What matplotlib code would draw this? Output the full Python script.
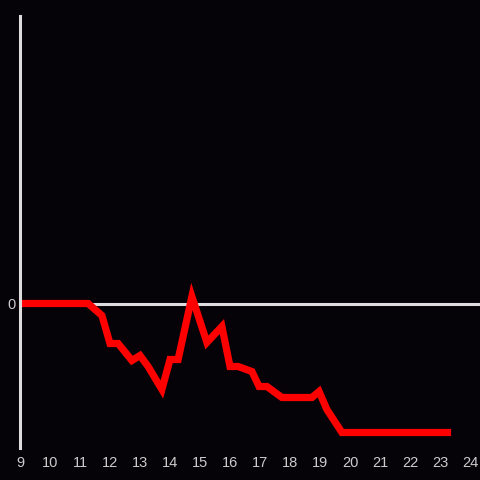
import matplotlib
matplotlib.use("Agg")
import matplotlib.pyplot as plt

# data
hours = [9.0, 11.27, 11.73, 12.0, 12.27, 12.73, 13.0, 13.27, 13.73, 14.0, 14.27,
         14.73, 15.23, 15.73, 16.0, 16.27, 16.73, 16.97, 17.23, 17.73, 18.73,
         18.97, 19.23, 19.73, 23.37]
values = [0, 0, -12, -40, -40, -57, -52, -63, -86, -56, -56,
          7, -39, -23, -63, -63, -68, -83, -83, -94, -94,
          -88, -106, -129, -129]
xticks = list(range(9, 25))
xtick_labels = [str(t) for t in xticks]
yticks = [0]
ytick_labels = ["0"]

bg = "#050307"
fg = "#dddddd"
txt = "#cccccc"

fig = plt.figure(figsize=(4.8, 4.8), dpi=100, facecolor=bg)
ax = fig.add_axes([20/480, 32/480, 460/480, 432/480], facecolor=bg)

ax.axhline(0, color=fg, lw=2.2, zorder=1)
ax.plot(hours, values, color="#ff0000", lw=5.2, solid_joinstyle="miter",
        solid_capstyle="butt", zorder=2)

ax.set_xlim(9, 9 + 460/30)
ax.set_ylim(-144.5, 287.5)

for s in ["top", "right", "bottom"]:
    ax.spines[s].set_visible(False)
ax.spines["left"].set_color(fg)
ax.spines["left"].set_linewidth(2.2)
ax.spines["left"].set_zorder(3)

ax.set_xticks(xticks)
ax.set_xticklabels(xtick_labels)
ax.set_yticks(yticks)
ax.set_yticklabels(ytick_labels)
ax.tick_params(axis="both", length=0, colors=txt, labelsize=10.5)
ax.tick_params(axis="x", pad=5.5)
ax.tick_params(axis="y", pad=3)
for lab in ax.get_xticklabels() + ax.get_yticklabels():
    lab.set_family("Liberation Sans")

fig.savefig("out.png", dpi=100, facecolor=bg)
